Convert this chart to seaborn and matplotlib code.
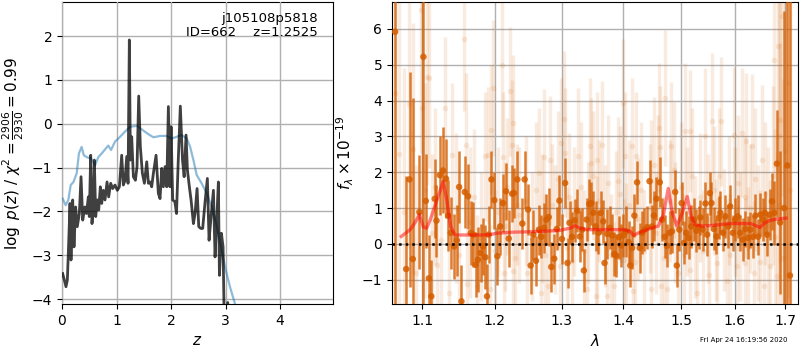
import numpy as np
import matplotlib
matplotlib.use("Agg")
import matplotlib.pyplot as plt
import seaborn as sns
from matplotlib.ticker import FixedLocator, FormatStrFormatter, NullLocator

# ---------------- p(z) panel data ----------------
pz_z = [0.012, 0.040, 0.073, 0.098, 0.116, 0.147, 0.165, 0.196, 0.220, 0.250,
        0.280, 0.318, 0.349, 0.380, 0.420, 0.450, 0.483, 0.501, 0.526, 0.550,
        0.575, 0.593, 0.618, 0.648, 0.673, 0.703, 0.728, 0.758, 0.789, 0.826,
        0.856, 0.893, 0.930, 0.972, 1.015, 1.052, 1.095, 1.125, 1.156, 1.187,
        1.211, 1.235, 1.254, 1.278, 1.309, 1.346, 1.376, 1.407, 1.437, 1.474,
        1.511, 1.554, 1.584, 1.615, 1.645, 1.676, 1.725, 1.767, 1.798, 1.829,
        1.859, 1.890, 1.921, 1.951, 1.980, 2.000, 2.030, 2.070, 2.100, 2.130,
        2.170, 2.210, 2.240, 2.275, 2.300, 2.336, 2.367, 2.410, 2.440, 2.477,
        2.508, 2.545, 2.580, 2.624, 2.666, 2.697, 2.734, 2.777, 2.807, 2.838,
        2.868, 2.887, 2.923, 2.954, 2.975, 3.000, 3.040, 3.070, 3.200, 3.500,
        4.000, 4.900]
pz_logp = [-3.42, -3.55, -3.72, -3.57, -2.96, -1.82, -3.11, -1.74, -2.81, -1.90,
           -2.35, -2.05, -1.21, -2.20, -1.90, -2.05, -1.67, -2.12, -0.72, -2.28,
           -1.90, -0.83, -2.12, -1.74, -1.97, -1.44, -1.82, -1.52, -1.74, -1.33,
           -1.67, -1.36, -1.48, -1.40, -1.52, -1.44, -0.72, -1.40, -1.29, -0.75,
           -1.36, 1.91, -0.83, -0.30, -1.21, -1.29, -0.98, 0.63, -0.53, -1.13,
           -1.36, -0.87, -1.36, -1.33, -1.44, -1.13, -0.72, -1.59, -1.71, -1.02,
           -1.44, -0.98, -1.44, 0.39, -1.44, -0.07, -1.74, -1.78, -2.05, -0.91,
           0.40, -0.83, -1.21, -0.26, -1.06, -1.44, -1.74, -2.28, -2.05, -1.48,
           -2.35, -2.39, -2.39, -1.78, -1.25, -2.66, -2.12, -1.52, -3.04, -2.20,
           -1.33, -3.46, -2.50, -2.81, -4.50, -5.50, -4.08, -5.50, -7.00, -9.00,
           -12.0, -16.0]

prior_z = [0.012, 0.067, 0.116, 0.160, 0.210, 0.270, 0.310, 0.360, 0.400, 0.465,
           0.532, 0.606, 0.667, 0.728, 0.807, 0.850, 0.899, 0.972, 1.064, 1.156,
           1.248, 1.370, 1.462, 1.584, 1.676, 1.800, 1.920, 2.010, 2.100, 2.196,
           2.290, 2.350, 2.410, 2.470, 2.560, 2.655, 2.747, 2.840, 2.917, 2.990,
           3.080, 3.170, 3.300, 3.600, 4.200, 4.900]
prior_logp = [-1.71, -1.86, -1.74, -1.40, -1.33, -1.13, -0.68, -0.53, -0.72, -0.77,
              -0.79, -0.95, -0.76, -0.68, -0.56, -0.50, -0.60, -0.41, -0.30, -0.18,
              -0.07, -0.05, -0.13, -0.24, -0.31, -0.28, -0.28, -0.34, -0.30, -0.26,
              -0.34, -0.53, -0.83, -1.17, -1.36, -1.59, -1.90, -2.35, -2.81, -3.27,
              -3.72, -4.10, -4.80, -6.00, -8.50, -11.0]

# ---------------- spectrum panel data ----------------
bin_wave = [1.0647, 1.0789, 1.0832, 1.0875, 1.0961, 1.1014, 1.1046, 1.1087, 1.1119, 1.1165,
            1.1188, 1.1234, 1.1275, 1.1317, 1.1344, 1.1381, 1.1427, 1.1464, 1.1496, 1.1528,
            1.1574, 1.1620, 1.1657, 1.1694, 1.1726, 1.1758, 1.1795, 1.1831, 1.1864, 1.1887,
            1.1910, 1.1951, 1.1992, 1.2036, 1.2076, 1.2116, 1.2161, 1.2201, 1.2251, 1.2276,
            1.2326, 1.2401, 1.2436, 1.2486, 1.2526, 1.2566, 1.2606, 1.2651, 1.2686, 1.2726,
            1.2766, 1.2800, 1.2840, 1.2885, 1.2925, 1.2965, 1.3005, 1.3054, 1.3092, 1.3124,
            1.3162, 1.3205, 1.3249, 1.3286, 1.3324, 1.3351, 1.3395, 1.3438, 1.3470, 1.3503,
            1.3541, 1.3584, 1.3622, 1.3665, 1.3686, 1.3730, 1.3773, 1.3811, 1.3849, 1.3881,
            1.3924, 1.3962, 1.4000, 1.4046, 1.4087, 1.4116, 1.4145, 1.4185, 1.4231, 1.4277,
            1.4318, 1.4358, 1.4405, 1.4445, 1.4491, 1.4520, 1.4566, 1.4624, 1.4665, 1.4711,
            1.4751, 1.4798, 1.4838, 1.4896, 1.4925, 1.4971, 1.5012, 1.5056, 1.5093, 1.5137,
            1.5186, 1.5230, 1.5279, 1.5323, 1.5354, 1.5404, 1.5447, 1.5478, 1.5528, 1.5559,
            1.5602, 1.5652, 1.5696, 1.5727, 1.5776, 1.5820, 1.5869, 1.5913, 1.5963, 1.6007,
            1.6053, 1.6105, 1.6151, 1.6204, 1.6257, 1.6303, 1.6355, 1.6401, 1.6454, 1.6500,
            1.6546, 1.6586, 1.6632, 1.6684, 1.6730, 1.6776, 1.6829, 1.6895, 1.6974, 1.7041,
            1.7095]
bin_flux = [5.92, -0.70, 1.80, -0.42, 0.89, 5.22, 1.20, -0.96, -1.46, 1.26,
            0.65, 1.92, 2.05, 1.82, 0.79, 0.31, -0.07, 0.10, 1.59, -1.60,
            1.45, 1.33, 0.31, 0.26, -0.58, -0.44, -0.25, -0.07, -0.37, -1.46,
            0.26, 1.80, 1.22, -0.34, 0.49, 1.14, 1.47, 0.15, 1.40, 1.42,
            1.80, 0.57, 1.80, 0.96, -0.60, 0.26, -0.47, 0.40, 0.20, 0.45,
            0.68, 0.75, -0.64, -0.41, 0.42, 1.21, 0.14, 1.70, -0.53, 0.59,
            0.20, 0.66, 0.93, 0.21, 0.40, -0.74, 0.68, 1.12, 1.14, 0.87,
            0.49, 0.31, 0.87, 0.63, -0.53, 0.28, 0.45, 0.24, -0.28, -0.33,
            0.19, -0.04, 0.24, 0.35, 0.05, -0.60, -0.11, 0.79, 1.72, -0.11,
            0.31, 0.40, 0.47, 1.75, 0.49, 0.79, 1.26, 1.72, 0.68, 0.20,
            -0.05, 0.31, 0.35, 1.45, -0.60, 0.40, 1.14, 0.03, 0.31, 0.17,
            0.49, 0.68, 0.37, 0.47, 0.74, 0.40, 1.13, 0.26, 1.42, 1.14,
            0.42, 0.21, 0.73, 0.87, 0.31, 0.77, 0.49, 1.05, 0.31, 0.68,
            0.77, 0.31, 0.12, 0.42, 0.17, 0.40, 0.20, 0.79, 0.20, 0.82,
            0.68, 0.87, 0.26, 0.82, 1.19, 0.87, 2.24, 0.60, 1.00, 2.19,
            -0.88]
bin_err = [9.0, 2.6, 3.0, 4.5, 1.6, 9.0, 1.3, 1.2, 1.0, 1.1,
           1.0, 1.1, 1.2, 1.1, 1.0, 1.0, 0.9, 1.0, 1.0, 1.0,
           1.0, 0.9, 0.9, 0.9, 0.9, 0.9, 0.8, 0.8, 0.9, 0.9,
           0.8, 0.8, 0.8, 0.8, 0.8, 0.8, 0.8, 0.8, 0.8, 0.7,
           0.8, 0.7, 0.8, 0.7, 0.8, 0.7, 0.7, 0.7, 0.6, 0.7,
           0.7, 0.8, 0.7, 0.7, 0.6, 0.7, 0.7, 0.7, 0.7, 0.6,
           0.7, 0.6, 0.6, 0.7, 0.6, 0.6, 0.6, 0.7, 0.6, 0.6,
           0.7, 0.6, 0.6, 0.6, 0.6, 0.7, 0.6, 0.6, 0.6, 0.6,
           0.6, 0.6, 0.6, 0.7, 0.6, 0.6, 0.6, 0.6, 0.6, 0.7,
           0.6, 0.6, 0.6, 0.6, 0.6, 0.7, 0.6, 0.7, 0.6, 0.6,
           0.6, 0.6, 0.6, 0.6, 0.6, 0.6, 0.6, 0.6, 0.6, 0.6,
           0.6, 0.6, 0.6, 0.6, 0.5, 0.6, 0.6, 0.6, 0.6, 0.6,
           0.6, 0.5, 0.6, 0.6, 0.5, 0.6, 0.6, 0.6, 0.5, 0.6,
           0.6, 0.5, 0.6, 0.5, 0.6, 0.5, 0.6, 0.6, 0.5, 0.6,
           0.6, 0.6, 0.6, 0.7, 0.8, 0.9, 1.5, 2.0, 5.5, 9.0,
           9.0]

faint_wave = [1.0650, 1.0700, 1.0760, 1.0820, 1.0871, 1.0920, 1.0983, 1.0991, 1.1030, 1.1060,
              1.1083, 1.1130, 1.1170, 1.1198, 1.1250, 1.1303, 1.1354, 1.1404, 1.1450, 1.1500,
              1.1565, 1.1588, 1.1611, 1.1650, 1.1700, 1.1748, 1.1800, 1.1859, 1.1895, 1.1932,
              1.1946, 1.1969, 1.2000, 1.2050, 1.2101, 1.2116, 1.2126, 1.2150, 1.2180, 1.2216,
              1.2251, 1.2260, 1.2266, 1.2300, 1.2326, 1.2350, 1.2450, 1.2476, 1.2550, 1.2600,
              1.2651, 1.2686, 1.2700, 1.2726, 1.2750, 1.2786, 1.2815, 1.2850, 1.2900, 1.2950,
              1.2975, 1.2990, 1.3043, 1.3054, 1.3080, 1.3110, 1.3162, 1.3200, 1.3254, 1.3300,
              1.3350, 1.3405, 1.3420, 1.3443, 1.3459, 1.3500, 1.3541, 1.3560, 1.3568, 1.3600,
              1.3649, 1.3700, 1.3730, 1.3750, 1.3800, 1.3838, 1.3880, 1.3903, 1.3950, 1.4000,
              1.4010, 1.4029, 1.4050, 1.4100, 1.4145, 1.4160, 1.4200, 1.4214, 1.4250, 1.4300,
              1.4350, 1.4450, 1.4462, 1.4470, 1.4520, 1.4550, 1.4600, 1.4607, 1.4636, 1.4650,
              1.4700, 1.4723, 1.4751, 1.4800, 1.4821, 1.4867, 1.4900, 1.4954, 1.5000, 1.5050,
              1.5074, 1.5100, 1.5155, 1.5168, 1.5200, 1.5250, 1.5292, 1.5350, 1.5400, 1.5447,
              1.5500, 1.5509, 1.5571, 1.5600, 1.5650, 1.5665, 1.5700, 1.5745, 1.5800, 1.5851,
              1.5880, 1.5900, 1.5976, 1.6000, 1.6040, 1.6060, 1.6100, 1.6138, 1.6200, 1.6204,
              1.6224, 1.6250, 1.6300, 1.6336, 1.6368, 1.6400, 1.6450, 1.6500, 1.6533, 1.6566,
              1.6600, 1.6650, 1.6697, 1.6750, 1.6763, 1.6800, 1.6829, 1.6842, 1.6870, 1.6895,
              1.6900, 1.6928, 1.6950, 1.7000, 1.7050, 1.7100]
faint_flux = [4.20, 2.50, 0.90, 3.90, 2.66, -0.80, 6.54, 3.80, 1.50, 4.65,
              4.63, 0.30, 1.60, -0.58, 0.10, 3.78, -1.37, 2.49, 1.00, -0.30,
              5.72, 2.77, -1.13, 0.60, 1.30, -1.18, 0.20, 2.45, 2.47, -1.27,
              3.19, 4.35, -0.20, 0.90, 5.00, 2.43, -0.81, 0.50, 1.60, 4.26,
              2.77, -0.76, 3.38, -0.40, 1.10, 0.80, 1.20, -0.81, 0.20, 1.50,
              1.98, -1.37, 0.70, 2.43, -0.30, -1.18, 2.33, 1.10, 0.40, 1.80,
              -0.62, 2.82, 3.49, 2.54, -0.10, 1.30, -0.48, 0.90, 2.45, 1.60,
              -0.20, -1.27, 0.60, 2.74, 2.26, 1.90, -1.46, 0.10, 2.33, 1.20,
              2.75, 0.50, -1.46, 1.70, -0.30, -1.18, 0.90, 1.75, 1.40, 3.93,
              -0.44, 2.45, 0.00, 1.10, 2.73, -1.32, -0.50, 2.45, 0.70, 1.50,
              -0.20, 1.00, 1.75, -1.27, 2.21, 0.30, 1.80, 3.24, 2.70, -1.18,
              -0.40, 4.07, -1.27, 1.20, 2.73, 2.07, 0.60, -0.81, 1.60, -0.30,
              3.14, 0.90, 3.14, -0.72, 1.90, 0.20, -1.37, 1.30, -0.20, 3.00,
              0.70, -0.86, 3.42, 1.50, 0.10, -0.53, 1.90, 3.42, 0.40, -1.04,
              1.20, -0.30, 3.05, 0.90, -0.62, 1.70, 0.20, 3.10, 1.30, -0.53,
              2.87, -0.10, 1.00, 2.73, -0.81, 1.80, 0.30, -0.50, 2.33, -1.18,
              1.40, 0.50, -0.62, 1.90, 5.14, 0.20, -0.90, 5.53, 3.00, 3.47,
              1.10, 6.35, -0.40, 2.60, 4.50, 1.50]
faint_err = [6.0, 5.0, 4.0, 4.0, 3.5, 3.0, 4.0, 3.0, 3.0, 3.0,
             2.5, 2.2, 2.2, 2.0, 2.0, 2.0, 2.0, 2.0, 2.1, 1.9,
             2.0, 2.0, 1.9, 2.1, 1.9, 2.0, 1.8, 1.8, 1.9, 1.8,
             1.8, 1.9, 1.7, 1.8, 2.0, 1.8, 1.7, 1.8, 1.9, 1.8,
             1.8, 1.7, 1.9, 1.8, 1.7, 1.9, 1.8, 1.7, 1.8, 1.9,
             1.8, 1.7, 1.8, 1.9, 1.7, 1.8, 1.8, 1.7, 1.8, 1.9,
             1.7, 1.8, 1.9, 1.8, 1.7, 1.8, 1.7, 1.8, 1.9, 1.8,
             1.7, 1.8, 1.7, 1.9, 1.8, 1.8, 1.7, 1.8, 1.9, 1.7,
             1.8, 1.7, 1.8, 1.9, 1.7, 1.8, 1.7, 1.8, 1.9, 1.8,
             1.7, 1.8, 1.7, 1.8, 1.9, 1.7, 1.8, 1.8, 1.7, 1.9,
             1.7, 1.8, 1.7, 1.8, 1.9, 1.7, 1.8, 1.8, 1.7, 1.8,
             1.7, 1.9, 1.8, 1.7, 1.8, 1.9, 1.7, 1.8, 1.8, 1.7,
             1.9, 1.8, 1.7, 1.8, 1.9, 1.7, 1.8, 1.8, 1.7, 1.9,
             1.8, 1.7, 1.9, 1.8, 1.7, 1.8, 1.9, 1.8, 1.7, 1.8,
             1.8, 1.7, 1.9, 1.8, 1.7, 1.9, 1.8, 1.8, 1.7, 1.8,
             1.9, 1.7, 1.8, 2.0, 2.0, 2.0, 1.9, 2.0, 2.1, 2.0,
             2.0, 2.2, 2.4, 2.5, 3.0, 3.0, 3.5, 3.5, 4.0, 4.0,
             4.5, 5.0, 5.0, 6.0, 6.0, 6.0]

model_wave = [1.0725, 1.0841, 1.0905, 1.0961, 1.1014, 1.1058, 1.1106, 1.1188, 1.1257, 1.1280,
              1.1326, 1.1381, 1.1439, 1.1565, 1.1795, 1.1928, 1.2026, 1.2276, 1.2515, 1.2775,
              1.2975, 1.3135, 1.3205, 1.3290, 1.3405, 1.3676, 1.4000, 1.4116, 1.4167, 1.4260,
              1.4400, 1.4598, 1.4687, 1.4773, 1.4840, 1.4927, 1.5020, 1.5114, 1.5180, 1.5255,
              1.5400, 1.5602, 1.5913, 1.6303, 1.6494, 1.6566, 1.6697, 1.6862, 1.7015]
model_flux = [0.21, 0.40, 0.60, 0.82, 0.47, 0.44, 0.68, 1.19, 1.61, 1.74,
              1.24, 0.49, 0.25, 0.25, 0.25, 0.26, 0.30, 0.33, 0.34, 0.36,
              0.38, 0.44, 0.51, 0.44, 0.40, 0.40, 0.40, 0.35, 0.24, 0.31,
              0.40, 0.50, 0.81, 1.55, 0.90, 0.50, 0.85, 1.32, 0.80, 0.53,
              0.50, 0.52, 0.57, 0.57, 0.46, 0.57, 0.66, 0.70, 0.72]

wave_ticks = [1.1, 1.2, 1.3, 1.4, 1.5, 1.6, 1.7]
flux_ticks = [-1, 0, 1, 2, 3, 4, 5, 6]
z_ticks = [0, 1, 2, 3, 4]
logp_ticks = [-4, -3, -2, -1, 0, 1, 2]

title_text = "j105108p5818\nID=662    z=1.2525"
date_text = "Fri Apr 24 16:19:56 2020"

spec_color = (0.8353, 0.3686, 0.0)

# ---------------- figure ----------------
fig = plt.figure(figsize=(8, 3.5), dpi=100)
ax1 = fig.add_axes([0.0775, 0.1314, 0.33875, 0.8629])
ax2 = fig.add_axes([0.49, 0.1314, 0.5075, 0.8629])

# p(z) panel
sns.lineplot(x=prior_z, y=prior_logp, ax=ax1, color="tab:blue", alpha=0.5,
             lw=1.6, sort=False, estimator=None, zorder=3)
sns.lineplot(x=pz_z, y=pz_logp, ax=ax1, color="k", alpha=0.75,
             lw=2.0, sort=False, estimator=None, zorder=4)
ax1.set_xlim(0, 4.97)
ax1.set_ylim(-4.114, 2.776)
ax1.set_xticks(z_ticks)
ax1.set_yticks(logp_ticks)
ax1.grid(True, color="#b0b0b0", lw=1.0)
ax1.set_axisbelow(False)
ax1.set_xlabel(r"$z$", fontsize=11)
ax1.set_ylabel(r"$\log\ p(z)$" + " / " + r"$\chi^2=\frac{2906}{2930}=0.99$", fontsize=11)
ax1.text(0.945, 0.967, title_text, transform=ax1.transAxes, ha="right", va="top",
         fontsize=9.5, linespacing=1.15)
ax1.tick_params(labelsize=10)

# spectrum panel
ax2.set_xscale("log")
ax2.errorbar(faint_wave, faint_flux, yerr=faint_err, fmt="o", color=spec_color,
             alpha=0.12, ms=4, lw=2.5, mew=0, zorder=2)
ax2.errorbar(bin_wave, bin_flux, yerr=bin_err, fmt="none", ecolor=spec_color,
             alpha=0.8, lw=1.8, zorder=3)
sns.scatterplot(x=bin_wave, y=bin_flux, ax=ax2, color=spec_color, alpha=0.85,
                s=22, edgecolor="none", zorder=4)
sns.lineplot(x=model_wave, y=model_flux, ax=ax2, color="r", alpha=0.5, lw=2.4,
             sort=False, estimator=None, zorder=5)
ax2.axhline(0, color="k", ls=":", lw=1.8, zorder=6)

ax2.set_xlim(1.0607, 1.726)
ax2.set_ylim(-1.675, 6.75)
ax2.xaxis.set_major_locator(FixedLocator(wave_ticks))
ax2.xaxis.set_major_formatter(FormatStrFormatter("%.1f"))
ax2.xaxis.set_minor_locator(NullLocator())
ax2.set_yticks(flux_ticks)
ax2.grid(True, color="#b0b0b0", lw=1.0)
ax2.set_xlabel(r"$\lambda$", fontsize=11)
ax2.set_ylabel(r"$f_\lambda\times10^{-19}$", fontsize=11)
ax2.tick_params(labelsize=10)

fig.text(0.985, 0.028, date_text, ha="right", va="center", fontsize=5)

fig.savefig("out.png", dpi=100)
